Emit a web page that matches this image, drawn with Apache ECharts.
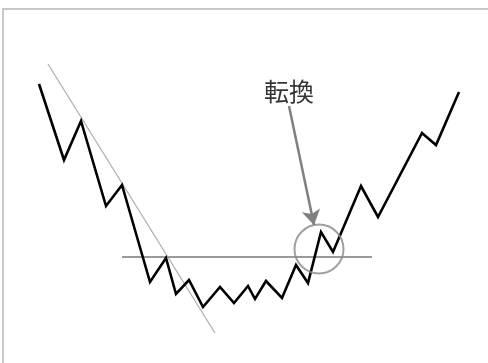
<!DOCTYPE html>
<html>
<head>
<meta charset="utf-8">
<script src="https://cdn.jsdelivr.net/npm/echarts@6/dist/echarts.min.js"></script>
<style>
  html, body { margin: 0; padding: 0; background: #fff; }
  #main { width: 488px; height: 363px; }
</style>
</head>
<body>
<div id="main"></div>
<script>
// price path (time, price)
const priceX = [36, 61, 78, 103, 119, 147, 163, 173, 186, 200, 217, 231, 245, 252, 263, 279, 293, 305, 318, 330, 358, 375, 419, 433, 456]
const priceY = [325, 249, 288, 203, 224, 127, 151, 115, 129, 102, 122, 106, 123, 110, 128, 111, 144, 126, 177, 157, 223, 192, 276, 264, 317]

// downtrend line and resistance line
const trendX = [45, 212]
const trendY = [345, 76]
const resistX = [119, 369]
const resistY = [152, 152]

// turning point marker, arrow and label
const turnPoint = [316, 160]
const arrowFrom = [286, 303]
const arrowTo = [311, 184]
const labelPos = [286, 318]
const labelText = '転換'

const zip = (xs, ys) => xs.map((x, i) => [x, ys[i]])

const chart = echarts.init(document.getElementById('main'))
chart.setOption({
    animation: false,
    grid: {
        show: true,
        left: 3,
        top: 9,
        width: 520,
        height: 400,
        outerBoundsMode: 'none',
        containLabel: false,
        borderColor: '#c8c8c8',
        borderWidth: 2,
        backgroundColor: '#fff'
    },
    xAxis: { type: 'value', min: 0, max: 520, show: false },
    yAxis: { type: 'value', min: 0, max: 400, show: false },
    series: [
        {
            type: 'line',
            data: zip(trendX, trendY),
            symbol: 'none',
            lineStyle: { color: '#b0b0b0', width: 1.3 },
            z: 1
        },
        {
            type: 'line',
            data: zip(resistX, resistY),
            symbol: 'none',
            lineStyle: { color: '#9a9a9a', width: 2 },
            z: 1
        },
        {
            type: 'line',
            data: zip(priceX, priceY),
            symbol: 'none',
            lineStyle: { color: '#000', width: 2.6, join: 'miter' },
            z: 3,
            markLine: {
                silent: true,
                symbol: ['none', 'arrow'],
                symbolSize: [14, 15],
                label: { show: false },
                lineStyle: { color: '#808080', width: 2.5, type: 'solid' },
                data: [[{ coord: arrowFrom }, { coord: arrowTo }]]
            }
        },
        {
            type: 'scatter',
            data: [turnPoint],
            symbol: 'circle',
            symbolSize: 49,
            itemStyle: { color: 'rgba(0,0,0,0)', borderColor: '#888', borderWidth: 2 },
            z: 4
        },
        {
            type: 'scatter',
            data: [labelPos],
            symbolSize: 0,
            label: {
                show: true,
                position: 'inside',
                formatter: labelText,
                fontFamily: '"Noto Sans CJK JP"',
                fontSize: 25,
                color: '#000'
            },
            z: 5
        }
    ]
})
</script>
</body>
</html>
